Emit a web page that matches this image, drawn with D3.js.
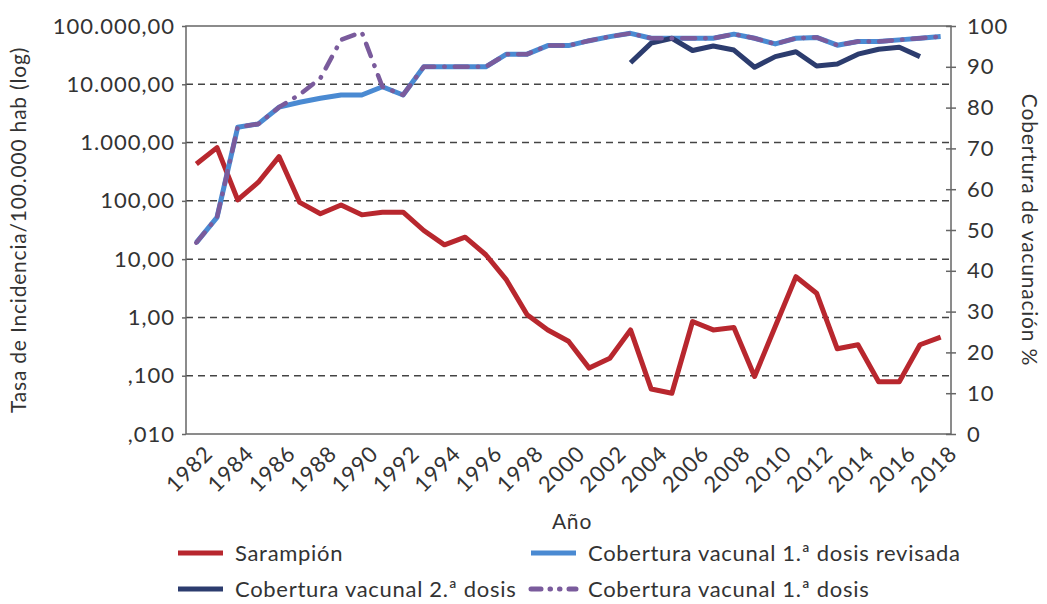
<!DOCTYPE html>
<html>
<head>
<meta charset="utf-8">
<script src="https://cdn.jsdelivr.net/npm/d3@7"></script>
<style>
  body { margin: 0; background: #fff; }
  text { font-family: Lato, "Open Sans", sans-serif; fill: #333; }
</style>
</head>
<body>
<div id="chart"></div>
<script>

// Years (categories)
var years = [1982, 1983, 1984, 1985, 1986, 1987, 1988, 1989, 1990, 1991, 1992, 1993, 1994,
	1995, 1996, 1997, 1998, 1999, 2000, 2001, 2002, 2003, 2004, 2005, 2006, 2007, 2008,
	2009, 2010, 2011, 2012, 2013, 2014, 2015, 2016, 2017, 2018];

// Tasa de incidencia sarampion / 100.000 hab (log axis)
var sarampion = [430, 820, 104, 209, 575, 94, 60, 85, 57.5, 64, 64, 31, 17.6,
	23.8, 11.9, 4.4, 1.11, 0.61, 0.39, 0.135, 0.2, 0.61, 0.059, 0.05, 0.85, 0.61, 0.67,
	0.097, 0.7, 5.0, 2.6, 0.29, 0.34, 0.079, 0.079, 0.34, 0.46];

// Coberturas (%)
var cob1Revisada = [46.9, 53.1, 75.2, 76, 80.1, 81.3, 82.3, 83.1, 83.1, 85.1, 83.1, 90, 90,
	90, 90, 93.1, 93.1, 95.2, 95.2, 96.4, 97.4, 98.2, 97, 97, 97, 97, 98,
	97, 95.6, 97, 97.2, 95.3, 96.2, 96.2, 96.6, 97, 97.4];
var cob2 = [null, null, null, null, null, null, null, null, null, null, null, null, null,
	null, null, null, null, null, null, null, null, 91.0, 95.8, 97.0, 94.0, 95.1, 94.1,
	89.9, 92.5, 93.7, 90.2, 90.7, 93.1, 94.3, 94.8, 92.5, null];
var cob1 = [46.9, 53.1, 75.2, 76, 80.1, 83.2, 87.2, 96.6, 98.5, 85.1, 83.1, 90, 90,
	90, 90, 93.1, 93.1, 95.2, 95.2, 96.4, 97.4, 98.2, 97, 97, 97, 97, 98,
	97, 95.6, 97, 97.2, 95.3, 96.2, 96.2, 96.6, 97, 97.4];

// Tick labels
var logTicks = [0.01, 0.1, 1, 10, 100, 1000, 10000, 100000];
var logLabels = [",010", ",100", "1,00", "10,00", "100,00", "1.000,00", "10.000,00", "100.000,00"];
var pctTicks = [0, 10, 20, 30, 40, 50, 60, 70, 80, 90, 100];

var w = 1047, h = 604;
var pl = 186, pr = 951, pt = 26, pb = 434;

var svg = d3.select("#chart").append("svg")
	.attr("width", w)
	.attr("height", h);

var x = d3.scalePoint()
	.domain(years)
	.range([pl, pr])
	.padding(0.5);

var yLog = d3.scaleLog()
	.domain([0.01, 100000])
	.range([pb, pt]);

var yPct = d3.scaleLinear()
	.domain([0, 100])
	.range([pb, pt]);

// dashed gridlines on the decades
svg.append("g")
	.selectAll("line")
	.data(logTicks.slice(1, -1))
	.enter().append("line")
	.attr("x1", pl)
	.attr("x2", pr)
	.attr("y1", function(d) { return yLog(d); })
	.attr("y2", function(d) { return yLog(d); })
	.attr("stroke", "#444")
	.attr("stroke-width", 1.5)
	.attr("stroke-dasharray", "7,5");

// frame
svg.append("rect")
	.attr("x", pl)
	.attr("y", pt)
	.attr("width", pr - pl)
	.attr("height", pb - pt)
	.attr("fill", "none")
	.attr("stroke", "#666")
	.attr("stroke-width", 1.5);

// left axis
var yAxisL = d3.axisLeft(yLog)
	.tickValues(logTicks)
	.tickFormat(function(d, i) { return logLabels[i]; })
	.tickSize(4)
	.tickPadding(7);
var gl = svg.append("g")
	.attr("transform", "translate(" + pl + ",0)")
	.call(yAxisL);
gl.select(".domain").remove();
gl.selectAll("line").attr("stroke", "#666").attr("stroke-width", 1.5);
gl.selectAll("text")
	.style("font-size", "22px")
	.style("letter-spacing", "1px")
	.attr("fill", "#333");

// right axis (ticks cross the line)
var yAxisR = d3.axisRight(yPct)
	.tickValues(pctTicks)
	.tickSize(5)
	.tickPadding(11);
var gr = svg.append("g")
	.attr("transform", "translate(" + pr + ",0)")
	.call(yAxisR);
gr.select(".domain").remove();
gr.selectAll(".tick line")
	.attr("x1", -5)
	.attr("stroke", "#666")
	.attr("stroke-width", 1.5);
gr.selectAll("text")
	.style("font-size", "22px")
	.style("letter-spacing", "1px")
	.attr("fill", "#333");

// x labels, every second year, rotated
svg.append("g")
	.selectAll("text")
	.data(years.filter(function(d, i) { return i % 2 == 0; }))
	.enter().append("text")
	.attr("transform", function(d) {
		return "translate(" + (x(d) + 7) + "," + (pb + 10) + ") rotate(-45)";
	})
	.attr("text-anchor", "end")
	.attr("dy", "0.7em")
	.style("font-size", "22px")
	.style("letter-spacing", "1px")
	.text(function(d) { return d; });

// axis titles
svg.append("text")
	.attr("transform", "translate(26," + ((pt + pb) / 2) + ") rotate(-90)")
	.attr("text-anchor", "middle")
	.style("font-size", "21px")
	.style("letter-spacing", "0.8px")
	.text("Tasa de Incidencia/100.000 hab (log)");

svg.append("text")
	.attr("transform", "translate(1022," + ((pt + pb) / 2) + ") rotate(90)")
	.attr("text-anchor", "middle")
	.style("font-size", "21px")
	.style("letter-spacing", "0.8px")
	.text("Cobertura de vacunación %");

svg.append("text")
	.attr("x", 572)
	.attr("y", 529)
	.attr("text-anchor", "middle")
	.style("font-size", "21px")
	.style("letter-spacing", "0.8px")
	.text("Año");

// series
var series = [
	{ name: "Sarampión", values: sarampion, scale: yLog, color: "#b8272e", dash: null },
	{ name: "Cobertura vacunal 1.ª dosis revisada", values: cob1Revisada, scale: yPct, color: "#4a8ad2", dash: null },
	{ name: "Cobertura vacunal 2.ª dosis", values: cob2, scale: yPct, color: "#2c3c6e", dash: null },
	{ name: "Cobertura vacunal 1.ª dosis", values: cob1, scale: yPct, color: "#7a5b9c", dash: "13,10,0.5,10" }
];

series.forEach(function(s) {
	var line = d3.line()
		.defined(function(d) { return d != null; })
		.x(function(d, i) { return x(years[i]); })
		.y(function(d) { return s.scale(d); });
	svg.append("path")
		.datum(s.values)
		.attr("d", line)
		.attr("fill", "none")
		.attr("stroke", s.color)
		.attr("stroke-width", s.dash ? 4.5 : 5)
		.attr("stroke-linejoin", "round")
		.attr("stroke-linecap", s.dash ? "round" : "butt")
		.attr("stroke-dasharray", s.dash);
});

// legend
var legendPos = [[178, 553], [531, 553], [178, 589], [531, 589]];
var legendOrder = [0, 1, 2, 3];
var lg = svg.append("g")
	.selectAll("g")
	.data(legendOrder)
	.enter().append("g")
	.attr("transform", function(d, i) { return "translate(" + legendPos[i][0] + "," + legendPos[i][1] + ")"; });

lg.append("line")
	.attr("x1", 0)
	.attr("x2", 45)
	.attr("stroke", function(d) { return series[d].color; })
	.attr("stroke-width", 5)
	.attr("stroke-linecap", function(d) { return series[d].dash ? "round" : "butt"; })
	.attr("stroke-dasharray", function(d) { return series[d].dash ? "10,9,0.5,9,0.5,9" : null; });

lg.append("text")
	.attr("x", 57)
	.attr("dy", "0.35em")
	.style("font-size", "22px")
	.style("letter-spacing", "0.7px")
	.text(function(d) { return series[d].name; });

</script>
</body>
</html>
